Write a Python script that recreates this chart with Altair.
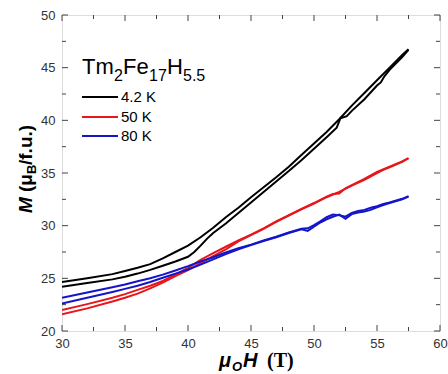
import altair as alt
import pandas as pd

# ---------------- data ----------------
temps = ["4.2 K", "50 K", "80 K"]
colors = ["#000000", "#e8161b", "#1414c8"]

H_42_a = [30, 32, 34, 35, 36, 37, 38, 39, 40, 41, 42, 43, 44, 45, 46, 47, 48, 49, 50, 51, 52, 53, 54, 55, 56, 57, 57.5]
M_42_a = [24.64, 25.0, 25.4, 25.7, 26.0, 26.35, 26.9, 27.5, 28.1, 28.9, 29.8, 30.8, 31.7, 32.7, 33.65, 34.6, 35.6, 36.7, 37.8, 38.9, 40.1, 41.4, 42.6, 43.8, 45.0, 46.2, 46.75]
H_42_b = [30, 32, 34, 35, 36, 37, 38, 39, 40, 40.5, 41, 41.5, 42, 43, 44, 45, 46, 47, 48, 49, 50, 51, 51.8, 52.1, 52.6, 53, 54, 55, 55.3, 55.6, 56, 57, 57.5]
M_42_b = [24.2, 24.55, 24.9, 25.15, 25.45, 25.8, 26.2, 26.6, 27.05, 27.5, 28.1, 28.75, 29.3, 30.2, 31.2, 32.2, 33.2, 34.2, 35.2, 36.2, 37.3, 38.4, 39.3, 40.2, 40.4, 40.9, 42.0, 43.3, 43.6, 44.2, 44.8, 46.0, 46.7]

H_50_a = [30, 32, 34, 35, 36, 37, 38, 39, 40, 41, 42, 43, 44, 45, 46, 47, 48, 49, 50, 51, 51.5, 52, 52.5, 53, 54, 55, 56, 57, 57.5]
M_50_a = [21.99, 22.55, 23.15, 23.5, 23.9, 24.3, 24.75, 25.35, 26.0, 26.75, 27.4, 28.0, 28.6, 29.15, 29.75, 30.4, 31.0, 31.6, 32.15, 32.75, 33.0, 33.05, 33.55, 33.85, 34.45, 35.1, 35.6, 36.1, 36.42]
H_50_b = [30, 32, 34, 35, 36, 37, 38, 39, 40, 41, 42, 43, 44, 45, 46, 47, 48, 49, 50, 51, 52, 53, 54, 55, 55.5, 56, 57, 57.5]
M_50_b = [21.58, 22.15, 22.8, 23.16, 23.55, 24.05, 24.6, 25.2, 25.78, 26.45, 27.1, 27.75, 28.5, 29.1, 29.7, 30.35, 30.95, 31.55, 32.1, 32.7, 33.2, 33.8, 34.35, 35.0, 35.3, 35.55, 36.05, 36.4]

H_80_a = [30, 32, 34, 35, 36, 37, 38, 39, 40, 41, 42, 43, 44, 45, 46, 47, 48, 49, 49.5, 50, 50.5, 51, 51.5, 52, 52.5, 53, 53.5, 54, 54.5, 55, 55.5, 56, 57, 57.5]
M_80_a = [23.16, 23.65, 24.15, 24.42, 24.72, 25.0, 25.35, 25.75, 26.16, 26.6, 27.0, 27.45, 27.85, 28.2, 28.6, 28.95, 29.35, 29.7, 29.75, 30.05, 30.4, 30.8, 31.05, 31.0, 30.85, 31.2, 31.4, 31.5, 31.7, 31.85, 32.05, 32.2, 32.55, 32.8]
H_80_b = [30, 32, 34, 35, 36, 37, 38, 39, 40, 41, 42, 43, 44, 45, 46, 47, 48, 49, 49.5, 50, 50.5, 51, 51.5, 52, 52.5, 53, 53.5, 54, 54.5, 55, 55.5, 56, 57, 57.5]
M_80_b = [22.62, 23.15, 23.7, 24.0, 24.3, 24.65, 25.05, 25.45, 25.84, 26.3, 26.8, 27.3, 27.75, 28.15, 28.55, 28.9, 29.3, 29.65, 29.5, 29.9, 30.3, 30.6, 30.85, 31.05, 30.65, 31.1, 31.25, 31.35, 31.5, 31.75, 31.95, 32.15, 32.5, 32.75]

x_major = [30, 35, 40, 45, 50, 55, 60]
x_minor = [32.5, 37.5, 42.5, 47.5, 52.5, 57.5]
y_major = [20, 25, 30, 35, 40, 45, 50]
y_minor = [22.5, 27.5, 32.5, 37.5, 42.5, 47.5]

# ---------------- build table ----------------
rows = []
for temp, branch, hs, ms in [
    ("4.2 K", "a", H_42_a, M_42_a), ("4.2 K", "b", H_42_b, M_42_b),
    ("50 K", "a", H_50_a, M_50_a), ("50 K", "b", H_50_b, M_50_b),
    ("80 K", "a", H_80_a, M_80_a), ("80 K", "b", H_80_b, M_80_b),
]:
    for i, (h, m) in enumerate(zip(hs, ms)):
        rows.append({"T": temp, "series": temp + branch, "i": i, "H": h, "M": m})
df = pd.DataFrame(rows)

W, HGT = 378, 316
FRAME = "#444444"
LBL = "#333333"
SANS = "Liberation Sans"
SERIF = "Liberation Serif"

xscale = alt.Scale(domain=[30, 60], nice=False, zero=False)
yscale = alt.Scale(domain=[20, 50], nice=False, zero=False)
xaxis = alt.Axis(values=x_major, title=None, ticks=False, domain=False, grid=False,
                 labelFontSize=13, labelColor=LBL, labelFont=SANS, labelPadding=6,
                 labelFlush=False, format="d")
yaxis = alt.Axis(values=y_major, title=None, ticks=False, domain=False, grid=False,
                 labelFontSize=13, labelColor=LBL, labelFont=SANS, labelPadding=7,
                 labelFlush=False, format="d")

lines = alt.Chart(df).mark_line(strokeWidth=2, clip=True).encode(
    x=alt.X("H:Q", scale=xscale, axis=xaxis),
    y=alt.Y("M:Q", scale=yscale, axis=yaxis),
    color=alt.Color("T:N", scale=alt.Scale(domain=temps, range=colors), legend=None),
    detail="series:N",
    order="i:Q",
)

def xticks(vals, length):
    d = pd.DataFrame({"H": vals})
    b = alt.Chart(d).mark_rule(color=FRAME, strokeWidth=1).encode(
        x=alt.X("H:Q", scale=xscale, axis=xaxis), y=alt.value(HGT), y2=alt.value(HGT - length))
    t = alt.Chart(d).mark_rule(color=FRAME, strokeWidth=1).encode(
        x=alt.X("H:Q", scale=xscale, axis=xaxis), y=alt.value(0), y2=alt.value(length))
    return [b, t]

def yticks(vals, length):
    d = pd.DataFrame({"M": vals})
    l = alt.Chart(d).mark_rule(color=FRAME, strokeWidth=1).encode(
        y=alt.Y("M:Q", scale=yscale, axis=yaxis), x=alt.value(0), x2=alt.value(length))
    r = alt.Chart(d).mark_rule(color=FRAME, strokeWidth=1).encode(
        y=alt.Y("M:Q", scale=yscale, axis=yaxis), x=alt.value(W), x2=alt.value(W - length))
    return [l, r]

tick_layers = xticks(x_major, 6) + xticks(x_minor, 4) + yticks(y_major, 6) + yticks(y_minor, 4)

one = pd.DataFrame({"a": [0]})

def txt(s, x, y, size, color="#000000", font=SANS, weight="normal", style="normal", angle=0):
    return alt.Chart(one).mark_text(
        text=s, align="left", baseline="alphabetic", fontSize=size, font=font,
        fontWeight=weight, fontStyle=style, color=color, angle=angle
    ).encode(x=alt.value(x), y=alt.value(y))

# legend title Tm2Fe17H5.5
ann = [
    txt("Tm", 20, 59, 22),
    txt("2", 52, 66, 16),
    txt("Fe", 61, 59, 22),
    txt("17", 87, 66, 16),
    txt("H", 105, 59, 22),
    txt("5.5", 121, 66, 16),
]
# legend entries
leg_y = [82, 102, 121]
for t, c, yy in zip(temps, colors, leg_y):
    ann.append(alt.Chart(one).mark_rule(color=c, strokeWidth=2).encode(
        x=alt.value(20), x2=alt.value(56), y=alt.value(yy)))
    ann.append(txt(t, 59, yy + 5, 15))

# y-axis title  M (μB/f.u.)  rotated
ann += [
    txt("M", -30, 198, 19, weight="bold", style="italic", angle=270),
    txt("(μ", -30, 177, 19, weight="bold", angle=270),
    txt("B", -26, 159, 13, weight="bold", angle=270),
    txt("/f.u.)", -30, 150, 19, weight="bold", angle=270),
]
# x-axis title  μO H (T)
ann += [
    txt("μ", 157, 352, 20, weight="bold", style="italic"),
    txt("O", 170, 356, 13, weight="bold", style="italic"),
    txt("H", 181, 352, 20, weight="bold", style="italic"),
    txt("(T)", 205, 352, 20, weight="bold", font=SERIF),
]

chart = alt.layer(lines, *tick_layers, *ann).properties(
    width=W, height=HGT,
    autosize=alt.AutoSizeParams(type="none"),
    padding={"left": 62, "top": 15, "right": 8, "bottom": 43},
).configure_view(stroke=FRAME, strokeWidth=1).configure(background="white")

chart.save("out.html", embed_options={"renderer": "svg", "actions": False})
